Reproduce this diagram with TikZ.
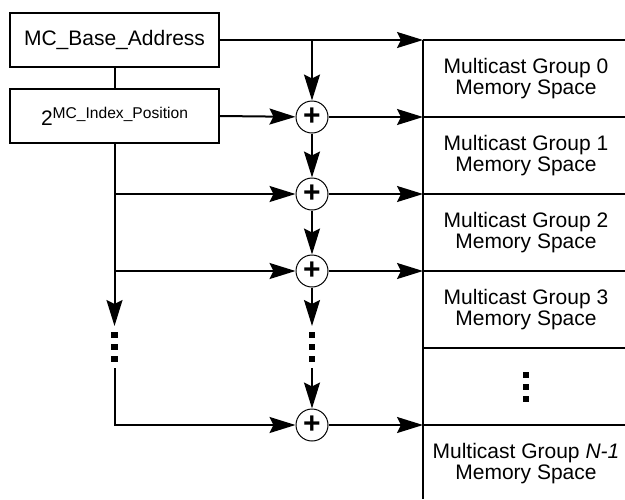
\documentclass[tikz,border=0pt]{standalone}
\usepackage{fontspec}
\setmainfont{Liberation Sans}
\usetikzlibrary{arrows.meta}

\begin{document}
\begin{tikzpicture}[
  x = 0.5pt, y = -0.5pt,
  every node/.style = {font=\fontsize{10.5}{10.5}\selectfont},
  reg/.style = {draw, line width=0.8pt, minimum width=104.5pt, minimum height=27pt, inner sep=0pt},
  adder/.style = {draw, circle, line width=0.5pt, minimum size=16pt, inner sep=0pt,
    font=\fontsize{15}{15}\selectfont\bfseries},
  cell/.style = {align=center, inner sep=0pt},
  sq/.style = {fill, minimum size=3.3pt, inner sep=0pt},
  link/.style = {line width=1pt},
  feed/.style = {link, -{Stealth[length=13pt, width=8pt, inset=2pt]}},
]
\useasboundingbox (0,0) rectangle (625,499);
\def\colL{114.5}
\def\colM{312}
\def\colR{423}

% registers
\node[reg] (base) at (\colL,40) {MC\_Base\_Address};
\node[reg] (idx) at (\colL,116) {2\raisebox{3.5pt}{\fontsize{7.8}{7.8}\selectfont MC\_Index\_Position}};

% adders
\node[adder] (sum1) at (\colM,117) {+};
\node[adder] (sum2) at (\colM,194) {+};
\node[adder] (sum3) at (\colM,271) {+};
\node[adder] (sum4) at (\colM,425) {+};

% memory column
\foreach \i/\y in {0/40,1/117,2/194,3/271,4/348,5/425}
  \coordinate (m\i) at (\colR,\y);
\draw[line width=0.8pt] (m0) -- (\colR,499);
\foreach \i in {0,...,5}
  \draw[line width=0.8pt] (m\i) -- (625,0 |- m\i);

\node[cell] (g0) at (526,78.5) {Multicast Group 0\\Memory Space};
\node[cell] (g1) at (526,155.5) {Multicast Group 1\\Memory Space};
\node[cell] (g2) at (526,232.5) {Multicast Group 2\\Memory Space};
\node[cell] (g3) at (526,309.5) {Multicast Group 3\\Memory Space};
\node[cell] (gN) at (526,463.5) {Multicast Group \textit{N-1}\\Memory Space};

% continuation marks
\foreach \y [count=\k] in {335,347,359} {
  \node[sq] (l\k) at (\colL,\y) {};
  \node[sq] (c\k) at (\colM,\y) {};
}
\foreach \y [count=\k] in {375,387,399}
  \node[sq] (r\k) at (526,\y) {};

\coordinate (lstop) at (\colL,326);
\coordinate (lres) at (\colL,368);
\coordinate (mstop) at (\colM,326);
\coordinate (mres) at (\colM,368);

% base address path
\draw[feed] (base.east) -- (m0);
\draw[feed] (base.east -| sum1) -- (sum1);
\draw[link] (base) -- (idx);

% index increments
\draw[feed] (idx.east) -- (sum1);
\draw[feed] (idx.south) -- (lstop);
\draw[feed] (idx.south |- sum2) -- (sum2);
\draw[feed] (idx.south |- sum3) -- (sum3);
\draw[feed] (lres) |- (sum4);

% adder chain
\draw[feed] (sum1) -- (sum2);
\draw[feed] (sum2) -- (sum3);
\draw[feed] (sum3) -- (mstop);
\draw[feed] (mres) -- (sum4);

% outputs
\draw[feed] (sum1) -- (m1);
\draw[feed] (sum2) -- (m2);
\draw[feed] (sum3) -- (m3);
\draw[feed] (sum4) -- (m5);

\end{tikzpicture}
\end{document}
